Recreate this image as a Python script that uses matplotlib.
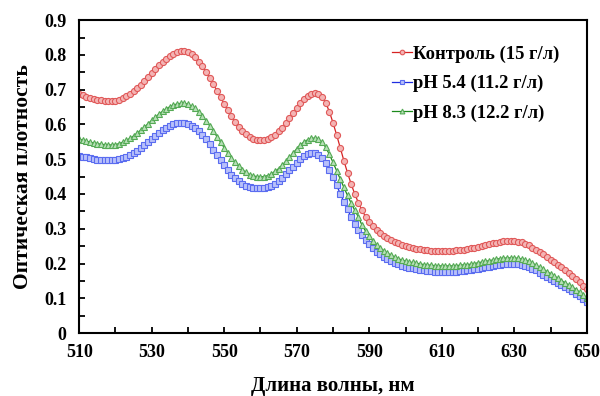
import matplotlib
matplotlib.use("Agg")
import matplotlib.pyplot as plt
from matplotlib.ticker import MultipleLocator

plt.rcParams['font.family'] = ['Liberation Serif', 'DejaVu Serif']
plt.rcParams['font.weight'] = 'bold'

# длина волны, нм (шаг 1 нм)
wavelength = list(range(510, 651))

control = [
    0.687, 0.684, 0.680, 0.677, 0.674, 0.671, 0.669, 0.668, 0.667, 0.667,
    0.668, 0.671, 0.675, 0.681, 0.688, 0.696, 0.705, 0.715, 0.726, 0.737,
    0.748, 0.759, 0.770, 0.780, 0.789, 0.797, 0.803, 0.808, 0.811, 0.811,
    0.808, 0.802, 0.793, 0.781, 0.767, 0.751, 0.734, 0.716, 0.697, 0.678,
    0.659, 0.641, 0.624, 0.608, 0.594, 0.582, 0.572, 0.564, 0.559, 0.556,
    0.555, 0.556, 0.559, 0.564, 0.571, 0.580, 0.591, 0.604, 0.618, 0.633,
    0.647, 0.661, 0.673, 0.682, 0.688, 0.690, 0.688, 0.679, 0.662, 0.637,
    0.605, 0.570, 0.533, 0.496, 0.461, 0.429, 0.400, 0.375, 0.353, 0.335,
    0.320, 0.307, 0.297, 0.288, 0.280, 0.274, 0.268, 0.263, 0.258, 0.254,
    0.251, 0.248, 0.245, 0.243, 0.241, 0.239, 0.238, 0.237, 0.236, 0.236,
    0.236, 0.236, 0.236, 0.237, 0.238, 0.239, 0.240, 0.242, 0.244, 0.246,
    0.248, 0.250, 0.253, 0.255, 0.258, 0.260, 0.262, 0.264, 0.265, 0.265,
    0.265, 0.263, 0.261, 0.257, 0.252, 0.246, 0.240, 0.233, 0.226, 0.219,
    0.211, 0.204, 0.196, 0.189, 0.181, 0.173, 0.164, 0.155, 0.146, 0.136,
    0.127,
]

ph54 = [
    0.509, 0.507, 0.505, 0.503, 0.501, 0.499, 0.498, 0.497, 0.497, 0.497,
    0.498, 0.500, 0.503, 0.507, 0.512, 0.518, 0.525, 0.533, 0.541, 0.550,
    0.559, 0.567, 0.576, 0.584, 0.591, 0.596, 0.600, 0.603, 0.604, 0.604,
    0.601, 0.597, 0.590, 0.581, 0.570, 0.557, 0.543, 0.528, 0.513, 0.498,
    0.483, 0.469, 0.456, 0.445, 0.436, 0.429, 0.423, 0.419, 0.417, 0.416,
    0.416, 0.417, 0.420, 0.424, 0.430, 0.438, 0.447, 0.457, 0.468, 0.479,
    0.490, 0.500, 0.508, 0.514, 0.517, 0.517, 0.513, 0.504, 0.489, 0.470,
    0.448, 0.425, 0.401, 0.378, 0.357, 0.333, 0.314, 0.297, 0.281, 0.267,
    0.255, 0.244, 0.234, 0.226, 0.219, 0.213, 0.207, 0.202, 0.198, 0.194,
    0.191, 0.188, 0.186, 0.184, 0.182, 0.180, 0.179, 0.178, 0.177, 0.176,
    0.176, 0.176, 0.176, 0.176, 0.177, 0.178, 0.179, 0.180, 0.181, 0.183,
    0.185, 0.187, 0.189, 0.191, 0.193, 0.195, 0.197, 0.198, 0.199, 0.200,
    0.200, 0.199, 0.197, 0.194, 0.190, 0.185, 0.180, 0.174, 0.168, 0.162,
    0.156, 0.150, 0.144, 0.138, 0.132, 0.126, 0.120, 0.113, 0.106, 0.098,
    0.090,
]

ph83 = [
    0.558, 0.555, 0.552, 0.549, 0.547, 0.545, 0.543, 0.542, 0.541, 0.541,
    0.542, 0.545, 0.549, 0.554, 0.560, 0.567, 0.575, 0.584, 0.593, 0.602,
    0.612, 0.621, 0.630, 0.638, 0.645, 0.651, 0.656, 0.659, 0.661, 0.661,
    0.658, 0.653, 0.646, 0.636, 0.624, 0.611, 0.596, 0.581, 0.565, 0.549,
    0.533, 0.518, 0.504, 0.491, 0.480, 0.470, 0.462, 0.456, 0.452, 0.450,
    0.449, 0.450, 0.453, 0.458, 0.465, 0.473, 0.483, 0.494, 0.506, 0.518,
    0.530, 0.541, 0.550, 0.556, 0.560, 0.561, 0.558, 0.549, 0.534, 0.514,
    0.491, 0.467, 0.443, 0.419, 0.396, 0.374, 0.353, 0.334, 0.310, 0.293,
    0.278, 0.265, 0.254, 0.245, 0.237, 0.230, 0.224, 0.219, 0.214, 0.210,
    0.207, 0.204, 0.203, 0.201, 0.199, 0.197, 0.196, 0.195, 0.194, 0.193,
    0.193, 0.193, 0.193, 0.193, 0.194, 0.195, 0.196, 0.197, 0.198, 0.200,
    0.202, 0.204, 0.206, 0.208, 0.210, 0.212, 0.214, 0.215, 0.216, 0.216,
    0.216, 0.215, 0.213, 0.210, 0.206, 0.201, 0.195, 0.189, 0.183, 0.177,
    0.171, 0.164, 0.158, 0.151, 0.145, 0.138, 0.132, 0.125, 0.118, 0.110,
    0.102,
]

labels = ['Контроль (15 г/л)', 'pH 5.4 (11.2 г/л)', 'pH 8.3 (12.2 г/л)']

fig = plt.figure(figsize=(6.0, 3.96), dpi=100)
ax = fig.add_axes([0.132, 0.159, 0.846, 0.790])

# линии + маркеры с полупрозрачной заливкой
ax.plot(wavelength, control, color='#d62222', lw=0.9, marker='o', ms=4.4,
        mec='#e05858', mfc='#f4b4b4', mew=0.8, label=labels[0])
ax.plot(wavelength, ph54, color='#1f2ee0', lw=0.9, marker='s', ms=4.2,
        mec='#5a6cf0', mfc='#b8c0fa', mew=0.8, label=labels[1])
ax.plot(wavelength, ph83, color='#1c8a1c', lw=0.9, marker='^', ms=4.6,
        mec='#55aa55', mfc='#b8e0b8', mew=0.8, label=labels[2])

ax.set_xlim(510, 650)
ax.set_ylim(0, 0.9)
ax.set_xticks(range(510, 651, 20))
ax.xaxis.set_minor_locator(MultipleLocator(10))
ax.set_yticks([i / 10 for i in range(10)])
ax.set_yticklabels(['0'] + ['%.1f' % (i / 10) for i in range(1, 10)])
ax.yaxis.set_minor_locator(MultipleLocator(0.05))
ax.tick_params(which='both', direction='in', length=4, width=1.3,
               labelsize=13)
ax.tick_params(axis='x', pad=8)
ax.tick_params(axis='y', pad=9)
for sp in ax.spines.values():
    sp.set_linewidth(1.5)

ax.set_xlabel('Длина волны, нм', fontsize=15, fontweight='bold', labelpad=11)
ax.set_ylabel('Оптическая плотность', fontsize=15.5, fontweight='bold', labelpad=8)

leg = ax.legend(loc='upper left', frameon=False, fontsize=13.4, handlelength=1.07,
                handletextpad=0.05, labelspacing=0.66, borderaxespad=0,
                borderpad=0, bbox_to_anchor=(0.616, 0.92), markerscale=0.75)

fig.savefig('out.png', dpi=100)
